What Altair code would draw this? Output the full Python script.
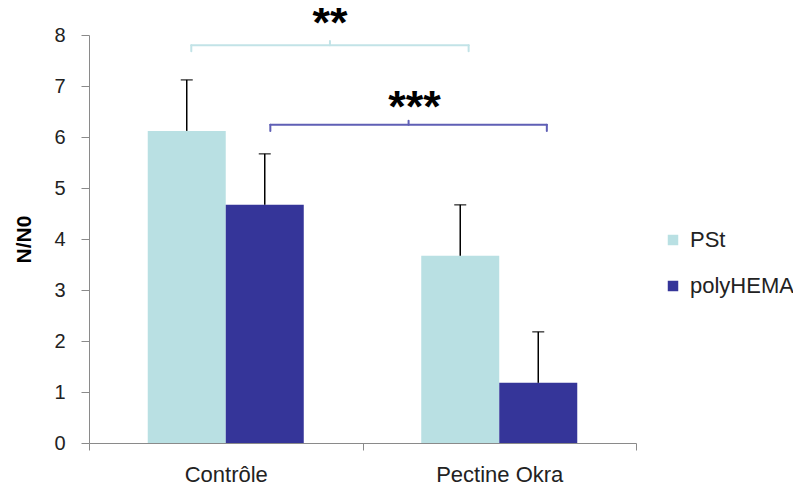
import altair as alt
import pandas as pd

categories = ["Contrôle", "Contrôle", "Pectine Okra", "Pectine Okra"]
series = ["PSt", "polyHEMA", "PSt", "polyHEMA"]
values = [6.12, 4.67, 3.67, 1.18]
errors = [1.0, 1.0, 1.0, 1.0]

# significance brackets (x in category units 0..2, y in data units)
br_x0 = [0.374, 0.663]
br_x1 = [1.388, 1.674]
br_y = [7.80, 6.24]
br_leg = [0.12, 0.12]
br_up = [0.08, 0.08]
br_label = ["**", "***"]
br_label_x = [0.881, 1.19]
br_label_y = [8.21, 6.57]
br_color = ["#c2e3e7", "#5f5fb5"]

FONT = "Liberation Sans"
C_PST = "#b9e0e3"
C_PH = "#353599"

df = pd.DataFrame({"cat": categories, "series": series, "val": values})
df["hi"] = df["val"] + pd.Series(errors)

xaxis = alt.Axis(title=None, labelAngle=0, tickBand="extent",
                 labelFontSize=22, labelFont=FONT, labelColor="#222",
                 domainColor="#8a8a8a", tickColor="#8a8a8a",
                 tickSize=7, labelPadding=14)
xscale = alt.Scale(paddingInner=0, paddingOuter=0)
xoff = alt.XOffset("series:N", scale=alt.Scale(paddingOuter=0.753, paddingInner=0))
yscale = alt.Scale(domain=[0, 8])
yaxis = alt.Axis(title="N/N0", values=list(range(9)), grid=False,
                 labelFontSize=20, labelFont=FONT, labelColor="#222",
                 titleFont=FONT, titleFontSize=21, titleFontWeight="bold",
                 titleColor="#000", titlePadding=19,
                 domainColor="#8a8a8a", tickColor="#8a8a8a",
                 tickSize=8, labelPadding=16)

bars = alt.Chart(df).mark_bar(size=78).encode(
    x=alt.X("cat:N", scale=xscale, axis=xaxis),
    xOffset=xoff,
    y=alt.Y("val:Q", scale=yscale, axis=yaxis),
    color=alt.Color("series:N", scale=alt.Scale(domain=["PSt", "polyHEMA"], range=[C_PST, C_PH]),
                    legend=alt.Legend(title=None, orient="none", legendX=573, legendY=194,
                                      symbolType="square", symbolSize=110, symbolStrokeWidth=0,
                                      labelFontSize=22, labelFont=FONT, labelColor="#222",
                                      rowPadding=24, labelOffset=6)),
)

err = alt.Chart(df).mark_rule(color="#000", strokeWidth=1.5).encode(
    x=alt.X("cat:N", scale=xscale, axis=xaxis),
    xOffset=xoff,
    y=alt.Y("val:Q", scale=yscale, axis=yaxis),
    y2="hi:Q",
)
caps = alt.Chart(df).mark_tick(color="#000", size=12, thickness=1.5, orient="horizontal").encode(
    x=alt.X("cat:N", scale=xscale, axis=xaxis),
    xOffset=xoff,
    y=alt.Y("hi:Q", scale=yscale, axis=yaxis),
)

main = alt.layer(bars, err, caps)

# bracket segments
segs = []
for i in range(len(br_x0)):
    xm = (br_x0[i] + br_x1[i]) / 2
    c = br_color[i]
    segs.append(dict(x=br_x0[i], x2=br_x1[i], y=br_y[i], y2=br_y[i], c=c))
    segs.append(dict(x=br_x0[i], x2=br_x0[i], y=br_y[i], y2=br_y[i] - br_leg[i], c=c))
    segs.append(dict(x=br_x1[i], x2=br_x1[i], y=br_y[i], y2=br_y[i] - br_leg[i], c=c))
    segs.append(dict(x=xm, x2=xm, y=br_y[i], y2=br_y[i] + br_up[i], c=c))
sdf = pd.DataFrame(segs)
xq = alt.Scale(domain=[0, 2])
brackets = alt.Chart(sdf).mark_rule(strokeWidth=2, strokeCap="round").encode(
    x=alt.X("x:Q", scale=xq, axis=None),
    x2="x2:Q",
    y=alt.Y("y:Q", scale=yscale, axis=yaxis),
    y2="y2:Q",
    color=alt.Color("c:N", scale=None, legend=None),
)
ldf = pd.DataFrame({"x": br_label_x, "y": br_label_y, "t": br_label})
stars = alt.Chart(ldf).mark_text(fontSize=45, fontWeight="bold", font=FONT, color="#000",
                                  baseline="middle").encode(
    x=alt.X("x:Q", scale=xq, axis=None),
    y=alt.Y("y:Q", scale=yscale, axis=yaxis),
    text="t:N",
)

chart = alt.layer(main, brackets, stars).resolve_scale(x="independent", color="independent").properties(
    width=547, height=408,
    background="white",
    autosize=alt.AutoSizeParams(type="none"),
    padding={"left": 81, "top": 27, "right": 157, "bottom": 39},
).configure_view(strokeWidth=0)

chart.save("out.html", embed_options={"renderer": "svg", "actions": False})
